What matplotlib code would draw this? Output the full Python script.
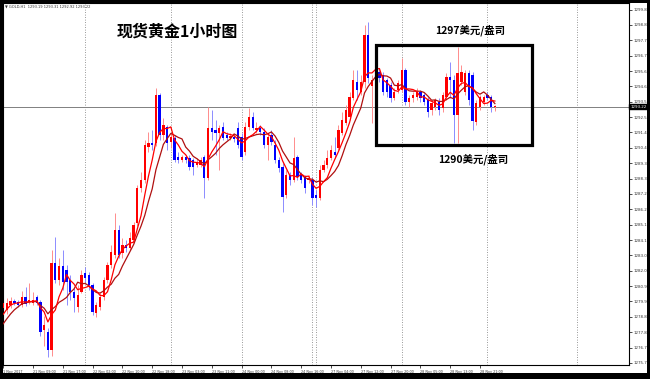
import numpy as np
import pandas as pd
import matplotlib
matplotlib.use("Agg")
import matplotlib.pyplot as plt
from matplotlib.patches import Rectangle
from matplotlib.transforms import blended_transform_factory

# GOLD H1 candles (one bar per traded hour, gaps skipped)
opens = [
    1279.46, 1279.32, 1279.66, 1279.94, 1279.87, 1279.66, 1280.21, 1279.87, 1279.80, 1280.21,
    1279.87, 1277.95, 1277.82, 1276.59, 1282.53, 1281.37, 1282.33, 1282.06, 1281.37, 1280.55,
    1279.53, 1280.55, 1281.85, 1281.71, 1281.03, 1279.12, 1279.53, 1280.21, 1281.37, 1282.40,
    1283.08, 1284.79, 1283.22, 1283.76, 1283.56, 1284.11, 1285.27, 1287.66, 1288.21, 1290.46,
    1290.74, 1290.74, 1294.02, 1291.28, 1291.83, 1290.80, 1291.08, 1289.78, 1289.57, 1289.78,
    1289.71, 1289.57, 1289.23, 1289.23, 1289.78, 1288.34, 1291.76, 1291.62, 1291.42, 1291.83,
    1291.28, 1291.08, 1291.15, 1291.76, 1291.15, 1290.12, 1291.83, 1292.51, 1291.62, 1291.76,
    1291.49, 1290.60, 1291.28, 1290.60, 1289.57, 1289.10, 1287.18, 1288.55, 1288.21, 1289.78,
    1288.55, 1288.41, 1288.21, 1288.21, 1287.18, 1286.98, 1288.89, 1289.23, 1289.71, 1290.12,
    1290.39, 1291.42, 1292.10, 1292.51, 1293.81, 1294.91, 1294.22, 1294.91, 1298.12, 1294.63,
    1295.04, 1295.59, 1295.38, 1295.04, 1294.70, 1293.81, 1294.36, 1294.36, 1295.72, 1293.54,
    1293.81, 1293.88, 1294.22, 1294.02, 1293.68, 1292.99, 1293.20, 1293.54, 1293.13, 1293.88,
    1295.25, 1295.04, 1292.65, 1294.91, 1294.22, 1295.52, 1295.38, 1292.17, 1293.20, 1293.54,
    1294.02, 1293.88, 1293.19,
]
highs = [
    1280.00, 1280.14, 1280.21, 1280.07, 1280.00, 1280.62, 1280.89, 1281.17, 1280.55, 1280.35,
    1280.00, 1278.91, 1278.09, 1283.42, 1284.31, 1282.88, 1283.42, 1282.40, 1281.71, 1280.83,
    1281.03, 1282.06, 1282.26, 1281.92, 1281.17, 1279.87, 1280.48, 1281.58, 1282.60, 1283.76,
    1285.95, 1285.13, 1284.24, 1284.11, 1284.65, 1285.34, 1287.86, 1288.75, 1290.94, 1291.49,
    1291.62, 1294.50, 1294.15, 1292.44, 1291.97, 1291.42, 1291.28, 1290.12, 1289.92, 1289.92,
    1289.92, 1289.71, 1289.71, 1289.78, 1289.92, 1293.20, 1292.99, 1292.31, 1291.97, 1292.17,
    1291.49, 1291.42, 1291.28, 1292.17, 1291.42, 1292.17, 1293.13, 1292.86, 1292.17, 1291.97,
    1291.76, 1291.42, 1291.62, 1290.94, 1289.78, 1289.37, 1288.89, 1288.75, 1291.15, 1289.92,
    1288.75, 1288.55, 1288.55, 1288.41, 1287.52, 1289.23, 1289.57, 1290.26, 1290.60, 1291.15,
    1291.97, 1292.86, 1293.33, 1294.22, 1295.72, 1295.72, 1295.38, 1298.80, 1299.01, 1295.38,
    1296.20, 1295.86, 1295.59, 1295.18, 1294.91, 1294.50, 1295.04, 1296.55, 1295.86, 1294.02,
    1294.22, 1294.50, 1294.36, 1294.15, 1293.88, 1293.68, 1293.81, 1293.81, 1294.22, 1295.52,
    1296.27, 1295.38, 1297.30, 1296.07, 1295.72, 1295.72, 1295.59, 1293.68, 1294.02, 1294.02,
    1294.22, 1294.02, 1293.31,
]
lows = [
    1279.19, 1279.05, 1279.46, 1279.66, 1279.53, 1279.53, 1279.59, 1279.73, 1279.66, 1279.66,
    1277.54, 1276.86, 1276.11, 1276.18, 1281.17, 1281.03, 1280.69, 1279.66, 1280.00, 1279.19,
    1279.19, 1280.48, 1281.24, 1280.69, 1278.98, 1278.84, 1279.32, 1280.00, 1281.17, 1282.19,
    1282.88, 1282.88, 1282.88, 1283.29, 1283.42, 1283.90, 1285.06, 1287.39, 1288.00, 1290.12,
    1290.26, 1290.53, 1290.94, 1290.94, 1290.26, 1290.39, 1289.44, 1289.37, 1289.44, 1289.37,
    1288.89, 1288.55, 1289.10, 1289.10, 1286.98, 1288.21, 1290.94, 1289.92, 1288.89, 1290.94,
    1290.94, 1290.94, 1290.80, 1290.39, 1289.57, 1289.92, 1291.62, 1291.62, 1291.42, 1291.28,
    1290.39, 1289.57, 1290.60, 1289.37, 1288.75, 1286.02, 1286.98, 1287.86, 1288.07, 1288.21,
    1288.00, 1287.32, 1288.00, 1286.50, 1286.36, 1286.84, 1288.75, 1289.03, 1289.57, 1289.71,
    1290.26, 1291.28, 1291.97, 1292.31, 1293.68, 1293.68, 1294.02, 1294.50, 1294.84, 1292.10,
    1294.70, 1294.91, 1294.02, 1293.88, 1293.54, 1293.68, 1294.15, 1294.22, 1293.33, 1293.20,
    1293.54, 1293.68, 1293.54, 1293.33, 1292.51, 1292.65, 1292.99, 1292.65, 1292.86, 1293.68,
    1293.81, 1290.74, 1290.74, 1294.70, 1294.02, 1293.33, 1291.62, 1291.97, 1292.99, 1293.33,
    1293.68, 1292.86, 1292.92,
]
closes = [
    1279.80, 1279.80, 1279.94, 1279.80, 1279.66, 1280.21, 1279.73, 1280.00, 1280.00, 1279.80,
    1277.82, 1278.30, 1276.59, 1282.53, 1281.37, 1282.33, 1281.24, 1281.24, 1280.55, 1280.14,
    1280.35, 1281.71, 1281.51, 1281.03, 1279.19, 1279.66, 1280.21, 1281.37, 1282.40, 1283.29,
    1284.79, 1283.08, 1283.76, 1283.56, 1284.24, 1285.13, 1287.66, 1288.21, 1290.60, 1290.74,
    1290.60, 1294.02, 1291.28, 1291.97, 1290.74, 1291.15, 1289.57, 1289.57, 1289.78, 1289.57,
    1289.10, 1289.10, 1289.44, 1289.57, 1288.34, 1291.76, 1291.49, 1291.42, 1291.76, 1291.08,
    1291.08, 1291.21, 1291.01, 1290.60, 1289.78, 1291.83, 1292.51, 1291.76, 1291.76, 1291.49,
    1290.60, 1291.15, 1290.80, 1289.57, 1289.03, 1287.04, 1288.55, 1288.21, 1289.71, 1288.41,
    1288.21, 1287.66, 1288.34, 1286.98, 1286.98, 1288.89, 1289.23, 1289.71, 1290.26, 1289.92,
    1291.62, 1292.31, 1292.99, 1293.88, 1295.04, 1294.36, 1294.91, 1298.12, 1295.18, 1295.04,
    1295.59, 1295.18, 1294.22, 1294.22, 1293.81, 1294.22, 1294.84, 1295.72, 1293.54, 1293.81,
    1294.02, 1294.22, 1293.81, 1293.54, 1292.86, 1293.47, 1293.68, 1292.99, 1294.02, 1295.25,
    1295.04, 1292.65, 1295.52, 1295.59, 1295.52, 1293.68, 1292.24, 1293.47, 1293.88, 1293.88,
    1293.81, 1293.20, 1293.22,
]
# closes before the first visible bar, estimated so the averages start where they do
prior_closes = [1276.5, 1276.8, 1277.0, 1277.3, 1277.6, 1278.0, 1278.6, 1279.2, 1279.5]

x_tick_pos = [0, 8, 16, 24, 32, 40, 48, 56, 64, 72, 80, 88, 96, 104, 112, 120, 128]
x_tick_labels = [
    "1 Nov 2017", "21 Nov 09:00", "21 Nov 17:00", "22 Nov 02:00", "22 Nov 10:00",
    "22 Nov 18:00", "23 Nov 03:00", "23 Nov 11:00", "24 Nov 00:00", "24 Nov 08:00",
    "24 Nov 16:00", "27 Nov 04:00", "27 Nov 12:00", "27 Nov 20:00", "28 Nov 05:00",
    "28 Nov 13:00", "28 Nov 21:00",
]
day_separators = [22, 45, 64, 83, 84, 107, 130, 154]
y_tick_labels = [
    "1275.7", "1276.7", "1277.8", "1278.8", "1279.9", "1280.9", "1282.0", "1283.0",
    "1284.1", "1285.1", "1286.2", "1287.2", "1288.3", "1289.3", "1290.4", "1291.4",
    "1292.5", "1293.5", "1294.6", "1295.6", "1296.7", "1297.7", "1298.8", "1299.8",
]
last_price = 1293.22

CJK = ["Noto Sans CJK SC", "DejaVu Sans"]

o, h, l, c = (np.array(v) for v in (opens, highs, lows, closes))
x = np.arange(len(c))
up = c >= o

full = pd.Series(prior_closes + closes)
ma_fast = full.rolling(5).mean().to_numpy()[len(prior_closes):]
ma_slow = full.rolling(8).mean().to_numpy()[len(prior_closes):]

W, H = 650, 379
fig = plt.figure(figsize=(W / 100, H / 100), dpi=100, facecolor="white")
# black frame round the whole picture (left, right, top, bottom strips)
for x0, y0, w, hh in [(0, 0, 3, H), (647, 0, 3, H), (0, H - 3, W, 3), (0, 0, W, 6)]:
    fig.add_artist(Rectangle((x0 / W, y0 / H), w / W, hh / H, transform=fig.transFigure,
                             facecolor="black", edgecolor="none", zorder=10))

ax = fig.add_axes([3 / W, 14 / H, 626 / W, 362 / H])
ax.set_xlim(-0.05, 168.0)
ax.set_ylim(1275.56, 1300.30)

for s in day_separators:
    ax.axvline(s, color="#777777", lw=0.6, ls=(0, (1, 2)), zorder=1)
ax.axhline(last_price, color="#808080", lw=0.7, zorder=1)

# candles
ax.vlines(x[up], l[up], h[up], color="#ff8c8c", lw=0.7, zorder=2)
ax.vlines(x[~up], l[~up], h[~up], color="#8c8cff", lw=0.7, zorder=2)
bottoms = np.minimum(o, c)
heights = np.maximum(np.abs(c - o), 0.04)
ax.bar(x[up], heights[up], bottom=bottoms[up], width=0.62, color="#ff0000", lw=0, zorder=3)
ax.bar(x[~up], heights[~up], bottom=bottoms[~up], width=0.62, color="#0000ff", lw=0, zorder=3)

ax.plot(x, ma_slow, color="#b01010", lw=0.9, zorder=4)
ax.plot(x, ma_fast, color="#ff0000", lw=0.9, zorder=4)

# range box and its labels
ax.add_patch(Rectangle((100.1, 1290.6), 41.8, 6.83, fill=False, ec="black", lw=2.3, zorder=5))
ax.text(125.3, 1298.46, "1297美元/盎司", ha="center", va="center", fontsize=7.5,
        fontweight="bold", family=CJK, zorder=6)
ax.text(126.1, 1289.64, "1290美元/盎司", ha="center", va="center", fontsize=7.5,
        fontweight="bold", family=CJK, zorder=6)

# axes styling, MT4 look
for sp in ax.spines.values():
    sp.set_color("black")
    sp.set_linewidth(0.8)
ax.yaxis.tick_right()
ax.set_yticks(1275.70 + 1.05 * np.arange(len(y_tick_labels)), y_tick_labels)
ax.tick_params(axis="y", direction="out", length=2, width=0.5, pad=1,
               labelsize=2.9, labelcolor="#333333")
ax.set_xticks(x_tick_pos, x_tick_labels)
for lbl in ax.get_xticklabels():
    lbl.set_horizontalalignment("left")
ax.tick_params(axis="x", direction="out", length=2, width=0.5, pad=1.5,
               labelsize=2.4, labelcolor="#333333")

trans = blended_transform_factory(ax.transAxes, ax.transData)
ax.text(1.002, last_price, f"{last_price:.2f}", transform=trans, color="white", fontsize=2.9,
        ha="left", va="center", zorder=7,
        bbox=dict(boxstyle="square,pad=0.2", fc="black", ec="black"))

fig.text(5 / W, 1 - 7 / H, "\u25bc GOLD,H1  1293.19 1293.31 1292.92 1293.22",
         fontsize=2.6, color="#333333", ha="left", va="center")
fig.text(117 / W, 1 - 32 / H, "现货黄金1小时图", fontsize=11.5, fontweight="bold",
         family=CJK, ha="left", va="center")

fig.savefig("out.png", dpi=100, facecolor="white")
